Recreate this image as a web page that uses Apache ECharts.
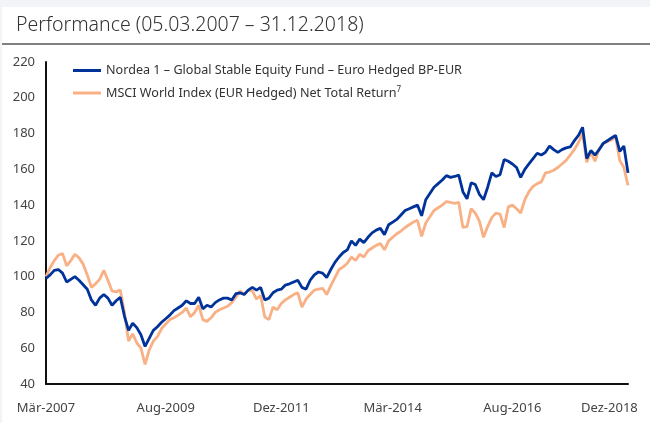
<!DOCTYPE html>
<html>
<head>
<meta charset="utf-8">
<script src="https://cdn.jsdelivr.net/npm/echarts@6/dist/echarts.min.js"></script>
<style>
  html, body { margin: 0; padding: 0; background: #f3f4f8; }
  #chart { position: absolute; left: 2px; top: 7px; width: 648px; height: 416px; background: #fff; }
</style>
</head>
<body>
<div id="chart"></div>
<script>
// Beschriftungen
var titleText = 'Performance (05.03.2007 – 31.12.2018)';
var fundName = 'Nordea 1 – Global Stable Equity Fund – Euro Hedged BP-EUR';
var indexName = 'MSCI World Index (EUR Hedged) Net Total Return';
var monthNames = ['Jan', 'Feb', 'Mär', 'Apr', 'Mai', 'Jun', 'Jul', 'Aug', 'Sep', 'Okt', 'Nov', 'Dez'];
var tickLabels = ['Mär-2007', 'Aug-2009', 'Dez-2011', 'Mär-2014', 'Aug-2016', 'Dez-2018'];
var yTicks = [40, 60, 80, 100, 120, 140, 160, 180, 200, 220];

// Monatswerte Mär-2007 ... Dez-2018
var fundValues = [
    99, 101, 103.5, 104, 102, 97, 98.5, 100, 98, 95.5,
    93, 87, 84, 88, 90, 88, 84, 86.5, 88.5, 78,
    70, 74, 71.5, 67.5, 61, 65.5, 70, 72, 74.5, 76.5,
    78.5, 81, 82.5, 84, 86.5, 85, 85, 88.5, 82, 84,
    83, 85.5, 87, 88, 88, 87, 90.5, 91, 90, 92.5,
    94, 92.5, 94, 87, 88, 91, 92.5, 93, 95.3, 96,
    97, 98, 94, 93, 98, 101, 102.6, 102, 99.5, 104,
    108, 111, 113.5, 115, 120, 117.5, 121, 119, 122, 124.5,
    126, 127, 123.5, 129, 130.5, 132, 134.5, 137, 138, 139,
    140, 134, 143, 146.5, 150, 152, 154, 156.5, 155.5, 156,
    156.8, 147.5, 143.5, 152.5, 151.5, 146, 143, 150, 158, 156,
    157, 165.5, 164.5, 163, 161, 155.5, 160, 163, 166, 169,
    168, 169.5, 173, 171, 169.5, 171, 172, 172.5, 176, 179,
    183.5, 166, 170.5, 168, 171, 174.5, 176, 177.5, 179, 170,
    173, 158
];
var indexValues = [
    100, 105, 109, 112, 113, 106, 109, 112.5, 110.5, 107,
    101, 94, 96, 98.5, 103.5, 98, 92, 91.5, 92.5, 80,
    64, 68, 63, 60, 51, 59, 64, 66.5, 71, 73.5,
    76, 77, 78.5, 80, 82.5, 77.5, 80, 84, 76, 75,
    77, 80, 81.5, 82.5, 83.5, 85.5, 88.5, 92, 90, 92.5,
    92, 87.5, 89.5, 77.5, 76, 83, 81.5, 85, 87, 88.5,
    90, 91, 83, 87.5, 90, 92.5, 93, 93.5, 90, 95,
    99.5, 104, 105.5, 107.5, 111, 109, 112.5, 111, 114.5, 116,
    117.5, 118.5, 115, 120, 122, 124, 125.5, 127.5, 129, 130.5,
    131.5, 122.5, 130, 133.5, 137, 138.5, 140, 142, 141.5, 141,
    141.5, 127.5, 128, 138, 135.5, 131, 122, 128, 133, 135.5,
    135, 127.5, 139, 140, 138, 135.5, 143, 147.5, 150.5, 152,
    153, 158, 158.5, 159.5, 161, 163, 165, 168, 171, 175,
    180, 164, 169.5, 164.5, 171.5, 174.5, 175.5, 176.5, 178, 165,
    161, 151
];

// Kategorien (Monate) aufbauen
var categories = [];
for (var i = 0; i < fundValues.length; i++) {
    var m = (2 + i) % 12;
    var y = 2007 + Math.floor((2 + i) / 12);
    categories.push(monthNames[m] + '-' + y);
}

var myChart = echarts.init(document.getElementById('chart'));
var labelFont = 'Noto Sans';
var lastLabel = tickLabels[tickLabels.length - 1];

var option = {
    animation: false,
    color: ['#f8b084', '#00339a'],
    title: {
        text: titleText,
        left: 9,
        top: 3,
        textStyle: {
            fontFamily: labelFont,
            fontWeight: 300,
            fontSize: 19.5,
            color: '#333'
        }
    },
    // Trennlinie unter dem Titel
    graphic: [{
        type: 'rect',
        shape: { x: 0, y: 36, width: 648, height: 2 },
        style: { fill: '#808080' }
    }],
    legend: {
        orient: 'vertical',
        left: 66,
        top: 52,
        itemWidth: 28,
        itemHeight: 3,
        itemGap: 9,
        icon: 'rect',
        data: [fundName, indexName],
        formatter: function (name) {
            return name === indexName ? name + '{sup|7}' : name;
        },
        textStyle: {
            fontFamily: labelFont,
            fontSize: 12.6,
            color: '#333',
            rich: {
                sup: { fontSize: 8, verticalAlign: 'top', padding: [0, 0, 6, 0], color: '#333' }
            }
        }
    },
    grid: {
        left: 44,
        right: 22,
        top: 55,
        bottom: 39,
        containLabel: false,
        outerBoundsMode: 'none'
    },
    xAxis: {
        type: 'category',
        boundaryGap: false,
        data: categories,
        axisLine: { lineStyle: { color: '#111', width: 2 } },
        axisTick: { show: false },
        axisLabel: {
            interval: function (index, value) {
                return tickLabels.indexOf(value) !== -1;
            },
            showMaxLabel: true,
            // letztes Label etwas nach links rücken
            formatter: function (value) {
                return value === lastLabel ? value + '\u00a0\u00a0\u00a0\u00a0\u00a0\u00a0\u00a0\u00a0\u00a0\u00a0\u00a0' : value;
            },
            margin: 18,
            fontFamily: labelFont,
            fontSize: 13,
            color: '#444'
        },
        splitLine: { show: false }
    },
    yAxis: {
        type: 'value',
        min: yTicks[0],
        max: yTicks[yTicks.length - 1],
        interval: 20,
        axisLine: { show: true, lineStyle: { color: '#111', width: 2 } },
        axisTick: { show: false },
        axisLabel: {
            margin: 11,
            fontFamily: labelFont,
            fontSize: 13,
            color: '#444'
        },
        splitLine: { show: false }
    },
    series: [
        {
            name: indexName,
            type: 'line',
            data: indexValues,
            showSymbol: false,
            lineStyle: { width: 2.8 }
        },
        {
            name: fundName,
            type: 'line',
            data: fundValues,
            showSymbol: false,
            lineStyle: { width: 2.8 }
        }
    ]
};
myChart.setOption(option);
</script>
</body>
</html>
